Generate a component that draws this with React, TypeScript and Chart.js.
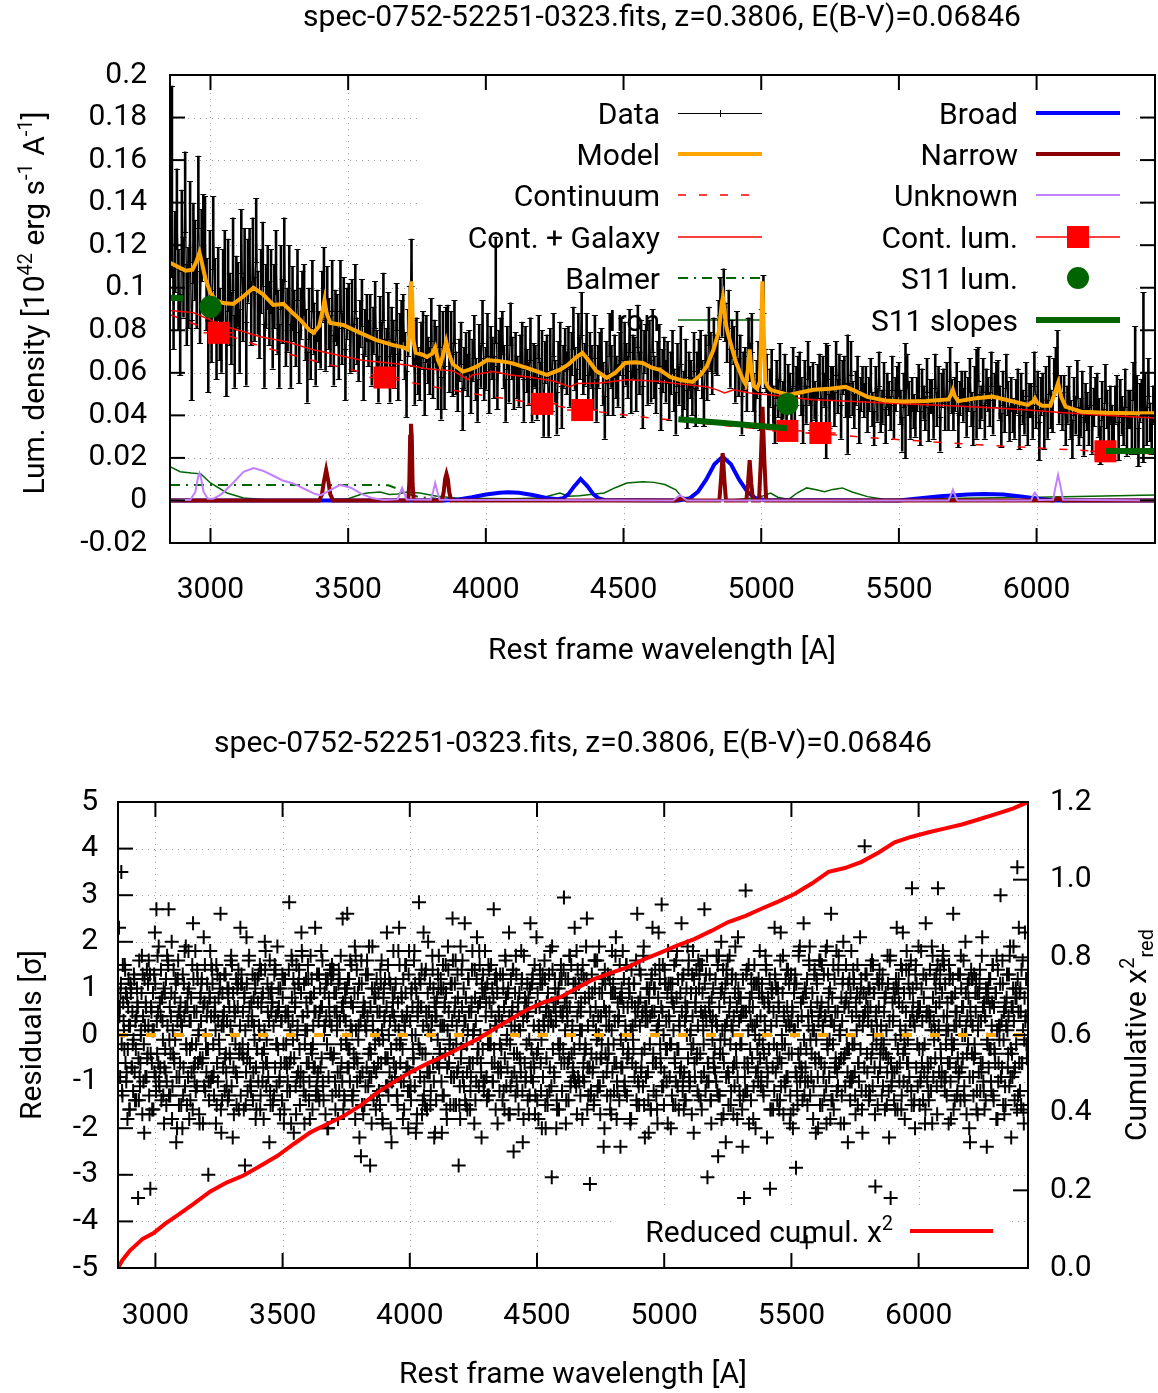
import { useEffect, useRef } from "react";
import { Chart, registerables } from "chart.js";

Chart.register(...registerables);

const FONT_FAMILY = "Roboto, 'DejaVu Sans', sans-serif";
const TEXT_SIZE = 30;
const SCRIPT_SIZE = 20;

const PLOT_TITLE = "spec-0752-52251-0323.fits, z=0.3806, E(B-V)=0.06846";
const X_TITLE = "Rest frame wavelength [A]";

// Wavelength axis shared by both panels
const LAMBDA_MIN = 2853;
const LAMBDA_MAX = 6430;
const lambdaTicks = [3000, 3500, 4000, 4500, 5000, 5500, 6000];

const fluxTicks = [-0.02, 0, 0.02, 0.04, 0.06, 0.08, 0.1, 0.12, 0.14, 0.16, 0.18, 0.2];
const fluxTickLabels = ["-0.02", "0", "0.02", "0.04", "0.06", "0.08", "0.1", "0.12", "0.14", "0.16", "0.18", "0.2"];
const residualTicks = [-5, -4, -3, -2, -1, 0, 1, 2, 3, 4, 5];
const chi2Ticks = [0, 0.2, 0.4, 0.6, 0.8, 1.0, 1.2];
const chi2TickLabels = ["0.0", "0.2", "0.4", "0.6", "0.8", "1.0", "1.2"];

// Spectrum pixel grid (rest frame, Angstrom)
const PIXEL_START = 2860;
const PIXEL_STEP = 6;

// Observed luminosity density per pixel [1e42 erg/s/A]
const flux = [
  0.150, 0.090, 0.117, 0.137, 0.099, 0.078, 0.127, 0.105, 0.145, 0.092,
  0.100, 0.131, 0.066, 0.121, 0.113, 0.098, 0.145, 0.091, 0.120, 0.127,
  0.126, 0.097, 0.068, 0.110, 0.082, 0.126, 0.097, 0.074, 0.102, 0.083,
  0.077, 0.101, 0.110, 0.066, 0.106, 0.090, 0.081, 0.116, 0.070, 0.098,
  0.097, 0.075, 0.122, 0.090, 0.113, 0.069, 0.108, 0.113, 0.088, 0.118,
  0.090, 0.127, 0.093, 0.082, 0.103, 0.116, 0.068, 0.096, 0.105, 0.088,
  0.103, 0.077, 0.096, 0.112, 0.084, 0.068, 0.105, 0.089, 0.118, 0.078,
  0.085, 0.105, 0.068, 0.095, 0.087, 0.075, 0.106, 0.067, 0.088, 0.096,
  0.099, 0.078, 0.058, 0.088, 0.069, 0.101, 0.081, 0.066, 0.087, 0.077,
  0.074, 0.096, 0.107, 0.073, 0.098, 0.083, 0.075, 0.101, 0.066, 0.087,
  0.085, 0.069, 0.101, 0.076, 0.093, 0.059, 0.088, 0.091, 0.071, 0.093,
  0.072, 0.100, 0.075, 0.067, 0.083, 0.093, 0.058, 0.079, 0.086, 0.074,
  0.086, 0.065, 0.080, 0.092, 0.069, 0.057, 0.085, 0.073, 0.096, 0.065,
  0.070, 0.087, 0.057, 0.080, 0.074, 0.064, 0.091, 0.058, 0.077, 0.083,
  0.086, 0.068, 0.050, 0.079, 0.090, 0.112, 0.074, 0.056, 0.075, 0.061,
  0.058, 0.073, 0.078, 0.051, 0.076, 0.066, 0.061, 0.085, 0.058, 0.075,
  0.072, 0.053, 0.082, 0.048, 0.079, 0.053, 0.081, 0.082, 0.061, 0.079,
  0.059, 0.084, 0.060, 0.052, 0.066, 0.074, 0.043, 0.062, 0.069, 0.059,
  0.070, 0.051, 0.066, 0.077, 0.057, 0.047, 0.073, 0.063, 0.084, 0.057,
  0.062, 0.078, 0.051, 0.072, 0.067, 0.058, 0.099, 0.053, 0.070, 0.076,
  0.079, 0.063, 0.047, 0.072, 0.056, 0.083, 0.067, 0.053, 0.069, 0.058,
  0.054, 0.068, 0.074, 0.047, 0.072, 0.061, 0.055, 0.076, 0.047, 0.064,
  0.063, 0.048, 0.077, 0.055, 0.070, 0.040, 0.065, 0.068, 0.040, 0.071,
  0.052, 0.078, 0.056, 0.041, 0.065, 0.074, 0.044, 0.063, 0.071, 0.060,
  0.072, 0.054, 0.069, 0.081, 0.062, 0.052, 0.078, 0.067, 0.088, 0.060,
  0.064, 0.078, 0.049, 0.069, 0.063, 0.053, 0.077, 0.047, 0.063, 0.069,
  0.071, 0.055, 0.039, 0.065, 0.050, 0.078, 0.063, 0.050, 0.068, 0.058,
  0.054, 0.069, 0.076, 0.049, 0.074, 0.064, 0.058, 0.080, 0.051, 0.068,
  0.067, 0.052, 0.082, 0.060, 0.075, 0.044, 0.070, 0.073, 0.055, 0.075,
  0.056, 0.080, 0.058, 0.051, 0.065, 0.073, 0.043, 0.061, 0.067, 0.056,
  0.065, 0.048, 0.060, 0.070, 0.052, 0.041, 0.064, 0.054, 0.073, 0.048,
  0.052, 0.067, 0.043, 0.061, 0.057, 0.049, 0.070, 0.044, 0.061, 0.067,
  0.071, 0.057, 0.044, 0.069, 0.056, 0.082, 0.070, 0.059, 0.077, 0.069,
  0.068, 0.085, 0.096, 0.086, 0.100, 0.084, 0.074, 0.090, 0.062, 0.076,
  0.073, 0.055, 0.080, 0.058, 0.069, 0.040, 0.061, 0.063, 0.051, 0.077,
  0.065, 0.079, 0.051, 0.043, 0.057, 0.066, 0.042, 0.081, 0.097, 0.062,
  0.060, 0.043, 0.053, 0.062, 0.045, 0.036, 0.057, 0.048, 0.065, 0.043,
  0.047, 0.060, 0.038, 0.055, 0.051, 0.044, 0.063, 0.040, 0.054, 0.059,
  0.061, 0.049, 0.036, 0.057, 0.045, 0.066, 0.054, 0.042, 0.056, 0.047,
  0.044, 0.056, 0.061, 0.040, 0.060, 0.052, 0.047, 0.065, 0.042, 0.055,
  0.055, 0.043, 0.067, 0.049, 0.061, 0.037, 0.058, 0.060, 0.047, 0.050,
  0.047, 0.067, 0.048, 0.042, 0.053, 0.060, 0.035, 0.050, 0.055, 0.047,
  0.055, 0.040, 0.050, 0.059, 0.043, 0.034, 0.055, 0.045, 0.062, 0.040,
  0.044, 0.057, 0.035, 0.052, 0.048, 0.041, 0.060, 0.037, 0.050, 0.055,
  0.057, 0.044, 0.031, 0.052, 0.047, 0.061, 0.048, 0.037, 0.050, 0.042,
  0.038, 0.050, 0.056, 0.034, 0.054, 0.046, 0.041, 0.059, 0.036, 0.049,
  0.049, 0.037, 0.061, 0.043, 0.055, 0.031, 0.052, 0.054, 0.041, 0.057,
  0.041, 0.064, 0.049, 0.041, 0.050, 0.057, 0.033, 0.048, 0.053, 0.045,
  0.053, 0.038, 0.050, 0.059, 0.043, 0.034, 0.055, 0.050, 0.064, 0.042,
  0.046, 0.059, 0.037, 0.054, 0.050, 0.043, 0.062, 0.039, 0.052, 0.057,
  0.058, 0.046, 0.033, 0.053, 0.040, 0.061, 0.048, 0.036, 0.050, 0.040,
  0.037, 0.049, 0.054, 0.032, 0.052, 0.044, 0.039, 0.057, 0.034, 0.047,
  0.047, 0.037, 0.062, 0.042, 0.052, 0.028, 0.049, 0.051, 0.033, 0.054,
  0.038, 0.059, 0.043, 0.041, 0.058, 0.063, 0.066, 0.045, 0.050, 0.042,
  0.050, 0.035, 0.045, 0.054, 0.038, 0.029, 0.049, 0.040, 0.057, 0.035,
  0.039, 0.052, 0.030, 0.046, 0.042, 0.035, 0.054, 0.031, 0.044, 0.049,
  0.051, 0.039, 0.026, 0.047, 0.034, 0.055, 0.043, 0.031, 0.045, 0.036,
  0.033, 0.045, 0.050, 0.028, 0.048, 0.040, 0.035, 0.053, 0.030, 0.043,
  0.043, 0.031, 0.056, 0.052, 0.050, 0.025, 0.046, 0.048, 0.058, 0.051,
  0.035, 0.058, 0.037, 0.031, 0.045,
];

// Pixel uncertainty: typical level per wavelength band, plus a few noisy pixels
const noiseBandStart = [2860, 2950, 3100, 3300, 3500, 3800, 4700, 5200, 6000];
const noiseBandSigma = [0.019, 0.017, 0.015, 0.012, 0.011, 0.010, 0.009, 0.008, 0.009];
const noisyPixelLambda = [2860, 4036, 5236, 5314, 5524, 5782, 6076, 6358, 6388];
const noisyPixelSigma = [0.045, 0.025, 0.027, 0.028, 0.027, 0.021, 0.014, 0.030, 0.040];

// Best-fit model and its components
const modelLambda = [
  2853, 2880, 2910, 2935, 2948, 2960, 2970, 2982, 3000, 3020, 3047, 3083, 3120, 3156, 3190, 3228, 3265,
  3300, 3326, 3360, 3374, 3395, 3405, 3414, 3422, 3435, 3482, 3544, 3600, 3664, 3700, 3716, 3722, 3726,
  3729, 3732, 3736, 3745, 3770, 3786, 3805, 3816, 3826, 3834, 3846, 3856, 3866, 3880, 3917, 3940, 3968,
  4004, 4050, 4088, 4149, 4221, 4270, 4300, 4330, 4351, 4372, 4400, 4439, 4470, 4505, 4540, 4570, 4600,
  4632, 4671, 4710, 4750, 4780, 4802, 4827, 4845, 4852, 4857, 4861, 4866, 4873, 4880, 4907, 4933, 4944,
  4952, 4958, 4964, 4971, 4985, 4995, 5000, 5004, 5009, 5015, 5023, 5034, 5100, 5150, 5190, 5250, 5307,
  5350, 5385, 5450, 5515, 5600, 5680, 5690, 5696, 5703, 5715, 5780, 5839, 5900, 5968, 5988, 5994, 6002,
  6020, 6050, 6065, 6078, 6090, 6105, 6162, 6250, 6357, 6430,
];
const modelFlux = [
  0.1117, 0.110, 0.108, 0.1085, 0.112, 0.1165, 0.111, 0.104, 0.0975, 0.094, 0.0928, 0.0924, 0.096, 0.100, 0.097, 0.0919, 0.0924,
  0.088, 0.0849, 0.080, 0.0788, 0.082, 0.088, 0.0943, 0.088, 0.0834, 0.0825, 0.0788, 0.0755, 0.073, 0.072, 0.071, 0.078, 0.098,
  0.103, 0.098, 0.076, 0.0695, 0.0685, 0.0675, 0.069, 0.072, 0.066, 0.0637, 0.069, 0.0747, 0.069, 0.064, 0.0606, 0.0615, 0.063,
  0.066, 0.0655, 0.0648, 0.0623, 0.059, 0.0615, 0.064, 0.0675, 0.0693, 0.066, 0.061, 0.0576, 0.060, 0.0646, 0.065, 0.0646, 0.0625,
  0.0614, 0.058, 0.0565, 0.0557, 0.059, 0.063, 0.071, 0.079, 0.0866, 0.093, 0.0955, 0.090, 0.082, 0.078, 0.0655, 0.057, 0.0545,
  0.062, 0.071, 0.062, 0.054, 0.0525, 0.056, 0.080, 0.103, 0.080, 0.056, 0.0537, 0.052, 0.0496, 0.051, 0.052, 0.0525, 0.0534,
  0.051, 0.0487, 0.047, 0.0465, 0.0467, 0.0475, 0.050, 0.052, 0.049, 0.0467, 0.048, 0.0488, 0.047, 0.0449, 0.0465, 0.048, 0.046,
  0.0445, 0.0445, 0.050, 0.0552, 0.0485, 0.0441, 0.0417, 0.0412, 0.041, 0.041,
];

const continuumLambda = [2853, 3000, 3200, 3400, 3600, 3800, 4000, 4200, 4400, 4600, 4800, 5000, 5200, 5400, 5600, 5800, 6000, 6200, 6430];
const continuumFlux = [0.0873, 0.0801, 0.0718, 0.0648, 0.0588, 0.0536, 0.0492, 0.0453, 0.0418, 0.0388, 0.0361, 0.0336, 0.0315, 0.0295, 0.0277, 0.0261, 0.0247, 0.0233, 0.0219];

const contGalaxyLambda = [
  2853, 2938, 3050, 3181, 3280, 3374, 3440, 3544, 3620, 3714, 3780, 3823, 3880, 3920, 3935, 3950, 4026,
  4090, 4149, 4250, 4305, 4330, 4414, 4512, 4560, 4632, 4700, 4802, 4840, 4867, 4900, 4960, 5034, 5190,
  5300, 5451, 5600, 5708, 5850, 5968, 6100, 6227, 6430,
];
const contGalaxyFlux = [
  0.0893, 0.0883, 0.082, 0.077, 0.0745, 0.0708, 0.069, 0.066, 0.065, 0.0637, 0.062, 0.0614, 0.061, 0.058, 0.0567, 0.059, 0.0606,
  0.059, 0.0582, 0.056, 0.0534, 0.055, 0.0552, 0.0567, 0.0565, 0.0559, 0.0548, 0.0534, 0.052, 0.0505, 0.052, 0.0505, 0.0496, 0.0473,
  0.0468, 0.0458, 0.045, 0.0444, 0.0435, 0.0425, 0.0412, 0.0402, 0.0388,
];

const balmerLambda = [2853, 3300, 3600, 3646, 3680, 3720, 3760, 3820, 3900, 4100, 4500, 6430];
const balmerFlux = [0.0073, 0.0073, 0.0073, 0.0071, 0.0055, 0.003, 0.0015, 0.0008, 0.0004, 0.0002, 0.0001, 0];

const ironLambda = [
  2853, 2890, 2930, 2965, 3000, 3060, 3120, 3200, 3400, 3500, 3550, 3569, 3616, 3650, 3680, 3714, 3760,
  3823, 3900, 4100, 4200, 4269, 4300, 4340, 4380, 4430, 4470, 4512, 4570, 4610, 4650, 4690, 4711, 4760,
  4900, 4970, 5000, 5034, 5060, 5100, 5130, 5165, 5200, 5230, 5260, 5295, 5330, 5386, 5450, 5600, 5800,
  6000, 6200, 6430,
];
const ironFlux = [
  0.0159, 0.0135, 0.0129, 0.0125, 0.0082, 0.0035, 0.0012, 0.0003, 0.0002, 0.0008, 0.003, 0.0035, 0.004, 0.0028, 0.003, 0.004, 0.0035,
  0.002, 0.001, 0.0008, 0.0012, 0.0035, 0.002, 0.0022, 0.0028, 0.0035, 0.006, 0.0082, 0.0088, 0.0085, 0.0075, 0.005, 0.0018, 0.0003,
  0.0003, 0.0012, 0.0018, 0.0035, 0.0015, 0.0005, 0.0035, 0.0059, 0.005, 0.0041, 0.0052, 0.0059, 0.004, 0.0018, 0.0005, 0.0008, 0.0012,
  0.0015, 0.002, 0.0026,
];

const broadLambda = [
  2853, 3850, 3900, 3950, 4000, 4050, 4080, 4120, 4170, 4220, 4260, 4280, 4300, 4320, 4344, 4370, 4390,
  4410, 4430, 4700, 4740, 4770, 4800, 4830, 4860, 4890, 4920, 4950, 4980, 5010, 5500, 5560, 5650, 5750,
  5810, 5880, 5950, 6020, 6060, 6430,
];
const broadFlux = [
  0, 0, 0.0005, 0.0015, 0.0028, 0.0036, 0.0038, 0.0036, 0.0026, 0.0012, 0.0006, 0.001, 0.003, 0.0065, 0.0101, 0.0065, 0.003,
  0.001, 0.0002, 0, 0.001, 0.004, 0.0098, 0.017, 0.0206, 0.017, 0.0098, 0.004, 0.001, 0.0002, 0, 0.0008, 0.002, 0.0028,
  0.003, 0.0028, 0.0018, 0.0006, 0, 0,
];

const narrowLambda = [
  2853, 3395, 3405, 3412, 3420, 3428, 3435, 3445, 3718, 3722, 3725, 3728, 3731, 3734, 3738, 3840, 3847,
  3852, 3857, 3862, 3867, 3874, 4690, 4700, 4710, 4720, 4730, 4848, 4854, 4860, 4866, 4872, 4946, 4952,
  4958, 4964, 4970, 4992, 4999, 5005, 5011, 5018, 6060, 6070, 6078, 6086, 6096, 6430,
];
const narrowFlux = [
  0, 0, 0.003, 0.009, 0.0143, 0.009, 0.003, 0, 0, 0.008, 0.030, 0.036, 0.030, 0.008, 0, 0, 0.004,
  0.010, 0.0125, 0.010, 0.004, 0, 0, 0.0006, 0.001, 0.0005, 0, 0, 0.010, 0.0223, 0.010, 0, 0, 0.008,
  0.019, 0.008, 0, 0, 0.02, 0.044, 0.02, 0, 0, 0.0005, 0.001, 0.0005, 0, 0,
];

const unknownLambda = [
  2853, 2927, 2945, 2955, 2960, 2965, 2975, 2990, 3010, 3040, 3080, 3120, 3156, 3190, 3230, 3260, 3300,
  3340, 3380, 3400, 3430, 3471, 3510, 3550, 3590, 3630, 3680, 3690, 3696, 3702, 3712, 3800, 3808, 3816,
  3824, 3832, 4680, 4695, 4705, 4715, 4730, 5680, 5690, 5696, 5702, 5712, 5980, 5988, 5994, 6000, 6008,
  6060, 6068, 6078, 6088, 6096, 6430,
];
const unknownFlux = [
  0, 0.0003, 0.004, 0.011, 0.0129, 0.011, 0.004, 0.0008, 0.0008, 0.003, 0.008, 0.0135, 0.0152, 0.014, 0.0115, 0.0095, 0.008,
  0.0055, 0.003, 0.0025, 0.0045, 0.0073, 0.006, 0.003, 0.001, 0.0002, 0.0005, 0.004, 0.0059, 0.004, 0.0005, 0.0003, 0.004, 0.0082,
  0.004, 0.0003, 0, 0.0015, 0.0025, 0.0015, 0, 0, 0.003, 0.005, 0.003, 0, 0, 0.0025, 0.0037, 0.0025, 0.0002,
  0.0003, 0.006, 0.012, 0.006, 0.0003, 0,
];

const contLumLambda = [3030, 3632, 4205, 4350, 5095, 5215, 6250];
const contLumFlux = [0.0788, 0.0578, 0.0454, 0.0425, 0.0327, 0.0317, 0.0231];
const CONT_LUM_HALF_WINDOW = 55;

const s11LumLambda = [3000, 5095];
const s11LumFlux = [0.091, 0.0454];

const s11SlopeLambda = [[2800, 2901], [4699, 5094], [6252, 6430]];
const s11SlopeFlux = [[0.0955, 0.0950], [0.0382, 0.0339], [0.0232, 0.0232]];

// Normalised residuals on the native pixel grid
const RESID_START = 2857;
const RESID_STEP = 1.5;
const residuals = [
  2.3, 0.4, 0.6, -0.9, 0.9, 1.1, 3.5, -0.2, -1.2, -1.3, 1.5, 0.7, 0.3, 0.1, -0.3, 1.5, 1.4, -0.6, 0.9, -1.0, -0.8, 0.8, -1.8, -0.3, 0.6, 1.2, 0.2, -1.6, -1.6, 0.2, 1.1, 0.9, 1.0, -0.7, -0.7, 0.5, -0.2, -1.2, -0.1, 1.3,
  1.2, -0.8, -1.4, 0.3, -0.3, -1.4, 0.4, 1.0, 0.7, 0.6, -3.5, -0.5, -1.4, 1.6, -0.9, -1.1, -0.6, 0.0, 0.1, 0.9, 1.7, -1.7, 1.3, 0.4, -1.0, -0.2, -2.1, 1.2, 0.2, -0.9, 0.7, 0.6, -0.9, 1.4, -0.5, -0.4, 1.1, 0.2, 1.6, -1.3,
  -1.7, 1.3, -3.3, -0.4, 0.6, 0.5, -0.6, -1.6, 0.1, 0.9, -1.6, 0.1, 1.3, -0.8, 2.2, 1.1, -0.9, -1.2, 2.7, 0.3, -0.4, 1.7, 0.5, -0.6, 1.9, -1.0, -1.1, 0.7, -0.7, 0.4, 1.4, -1.4, 0.8, 0.8, 0.3, -0.1, -1.3, 1.0, -1.9, -0.7,
  0.9, -0.3, -0.8, 1.2, -1.5, -1.0, 1.7, 0.2, 1.6, 1.5, 2.7, -1.3, -0.1, 0.6, -1.3, -0.4, 0.4, 0.9, 2.0, -1.8, -1.1, 0.1, -0.4, 1.4, -0.5, -0.6, 0.8, -0.1, 1.2, 1.1, -2.3, -0.9, -2.0, 0.3, 1.2, 1.6, 0.5, -1.5, -0.9, 0.5,
  -0.6, 0.7, 0.3, -1.5, 0.2, 0.2, -2.0, 1.3, -1.3, -0.7, 1.1, 0.4, 1.8, -1.1, 0.6, 1.9, -0.2, -0.3, -1.5, 0.6, 0.9, -0.9, 1.8, 1.0, -1.8, 0.3, -0.3, -1.4, 0.3, 0.8, -0.8, -0.2, 1.5, -1.6, 2.4, 1.2, -0.7, 0.5, -1.0, -0.6,
  1.8, -1.2, -0.2, 0.5, -1.1, 1.4, 1.2, -0.6, 0.0, 0.1, -1.7, -1.9, -0.5, 0.8, 0.9, 0.3, 1.1, 1.2, -0.6, -0.5, -1.9, 0.6, 2.1, -1.1, 0.7, 1.5, -1.2, 0.0, -0.3, -0.8, 0.4, 1.1, 0.6, -0.3, -3.0, -1.0, -1.4, 0.9, 0.8, 1.8,
  -1.0, 0.4, 1.5, -0.9, 1.4, 1.1, -0.9, -0.2, -0.8, -1.3, 0.4, 0.7, 0.5, 0.1, -1.9, 1.5, -1.5, -0.6, 1.3, -1.0, 0.3, 0.8, -0.1, -0.3, 1.0, 1.2, 2.6, -1.6, -2.1, 0.2, -1.4, 0.9, 0.4, -0.7, 0.2, 0.5, 1.3, -1.2, -0.5, 1.3,
  -0.4, -0.8, -1.1, 0.3, 1.0, -1.4, 0.8, 1.0, -1.3, 0.6, -0.4, -0.5, 0.2, 1.6, 1.7, -1.1, 1.5, 0.0, -2.2, 0.9, -0.7, -1.7, 0.6, 0.4, 0.5, -0.2, -0.8, 1.2, -1.5, -0.9, 1.0, 0.6, 1.1, 1.4, -1.6, -0.4, -0.3, 0.2, 2.3, -1.3,
  1.1, 1.3, 1.1, -0.4, -0.2, 0.5, -0.5, -1.6, 0.8, 0.9, -2.8, 0.1, -1.5, -0.8, 2.1, 1.1, -0.5, -1.2, -0.3, 0.3, 1.6, 1.7, 0.6, -0.6, -1.1, -1.0, -1.2, 0.7, 0.3, 0.4, 1.3, -1.4, -0.8, 0.8, 0.2, -0.1, 1.2, 1.0, -1.8, -0.7,
  -1.6, -0.3, -0.3, 1.2, 0.7, -1.0, 1.3, 0.2, 0.0, 1.5, -1.6, -1.3, 1.4, 0.6, 0.8, -0.4, -1.0, 0.9, -0.7, -1.8, -0.3, 0.1, 2.0, 1.4, 1.8, -0.6, -1.1, -0.1, -0.6, 1.1, 0.5, -0.9, 0.9, 0.3, -2.3, 1.6, -1.2, -1.5, 0.9, 0.5,
  1.0, 0.7, 0.7, -1.5, -1.4, 0.2, -1.3, 1.3, 1.5, -0.7, 1.4, 0.4, -0.2, -1.1, -0.2, 1.9, 0.5, -0.3, 1.0, 0.6, -1.0, -0.9, -1.7, 1.0, -0.6, 0.3, 0.3, -1.4, 1.3, 0.8, 1.2, -0.2, -1.9, -1.6, -0.6, 1.2, 0.4, 0.5, -0.2, -0.6,
  -0.7, -1.2, -1.0, 0.5, 0.3, 1.4, 2.85, -0.6, -1.2, 0.1, -0.5, -1.9, 1.7, 0.8, 1.6, 0.3, -0.1, 1.2, -2.1, -0.5, 1.0, 0.6, 0.7, -1.1, -1.7, 1.5, -0.9, 0.0, 0.2, -0.8, 1.1, 1.1, 1.4, -0.3, -1.5, -1.0, -0.8, 0.9, 2.2, 1.8,
  1.7, 0.4, 0.4, -0.9, -1.2, 1.1, -1.9, -0.2, 0.1, -1.3, 1.2, 0.7, -0.6, 0.1, 0.5, 1.5, 1.2, -0.6, -1.4, -1.0, -1.8, 0.8, 1.7, -0.3, 0.8, 1.2, -0.4, -1.6, -0.2, 0.2, -0.7, 0.9, 0.5, -0.7, 2.3, 0.5, -1.3, -1.2, -1.1, 1.3,
  -0.9, -0.8, -1.3, 0.3, 1.3, -1.4, 0.5, 1.0, -0.7, 0.6, 1.8, -0.5, 0.6, 1.6, -1.0, -1.1, -1.4, 0.0, 0.2, 0.9, 0.2, -1.7, 1.2, 0.4, 1.1, -0.2, -2.0, 1.2, -2.0, -0.9, 0.8, 0.6, 0.3, 1.4, -0.4, -0.4, 1.2, 0.2, 1.5, -1.3,
  -0.5, 1.3, 1.4, -0.4, 0.9, 0.5, -1.0, -1.6, -1.2, 0.9, 0.5, 0.1, 0.3, -0.8, -1.8, 1.1, 1.4, -1.2, 1.2, 0.3, -0.8, 1.7, -0.2, -0.6, 0.6, -1.0, 2.5, 0.7, -1.6, 0.4, -1.3, -1.4, 1.0, 0.8, 0.3, -0.1, -0.2, 1.0, 2.6, -0.7,
  1.2, -0.3, -0.7, 1.2, -0.3, -1.0, 1.6, 0.2, 0.7, 1.5, 0.1, -1.3, -1.4, 0.6, -1.2, -0.4, -0.6, 0.9, 1.9, -1.8, 1.7, 0.1, -0.5, 1.4, -1.0, -0.6, 0.9, -0.1, 0.2, 1.1, -2.2, -0.9, -0.9, 0.3, -2.6, 1.6, 1.1, -1.5, -0.8, 0.5,
  -1.7, 0.7, 0.5, -1.5, 0.6, 0.2, -1.1, 1.3, 0.1, -0.7, 1.6, 0.4, 1.3, -1.1, -0.4, 1.9, -0.9, -0.3, -2.8, 0.6, -0.4, -0.9, -1.9, 1.0, 1.9, 0.3, 0.1, -1.4, -0.7, 0.8, 1.0, -0.2, 0.8, -1.6, -0.8, 1.2, -1.3, 0.5, 0.0, -0.6,
  0.9, -1.2, -0.1, 0.5, -1.5, 1.4, 1.1, -0.6, 1.6, 0.1, -1.8, -1.9, -0.1, 0.8, 1.0, 0.3, 0.4, 1.2, -0.5, -0.5, -1.1, 0.6, 2.2, -1.1, -0.5, 1.5, -1.3, 0.0, 1.2, -0.8, 0.3, 1.1, -2.0, -0.3, -2.3, -1.0, 0.5, 0.9, 0.7, 1.8,
  -0.6, 0.4, 0.9, -0.9, 0.2, 1.1, -0.7, -0.2, -1.3, -1.3, -1.5, 0.7, 1.8, 0.1, 2.3, 1.5, -0.2, -0.6, -0.1, -1.0, 0.9, 0.8, 0.4, -0.3, -1.8, 1.2, -1.0, -1.6, 0.3, 0.2, 1.5, 0.9, 1.5, -0.7, 0.4, 0.5, -0.7, -1.2, -2.0, 1.3,
  1.8, -0.8, -1.2, 0.3, -1.1, -1.4, 0.9, 1.0, 0.0, 0.6, -0.3, -0.5, -0.5, 1.6, 1.8, -1.1, 1.1, 0.0, -2.1, 0.9, -1.9, -1.7, 0.5, 0.4, 0.7, -0.2, 2.85, 1.2, -0.3, -0.9, 1.1, 0.6, 0.6, 1.4, -1.7, -0.4, -1.4, 0.2, 2.2, -1.3,
  -1.0, 1.3, -1.5, -0.4, 1.4, 0.5, 0.3, -1.6, -0.8, 0.9, 2.0, 0.1, 0.5, -0.8, -0.8, 1.1, -1.5, -1.2, 0.0, 0.3, 0.3, 1.7, 1.4, -0.6, 1.0, -1.0, -2.2, 0.7, -2.1, 0.4, 0.6, -1.4, 0.4, 0.8, -0.6, -0.1, 1.3, 1.0, 1.7, -0.7,
  -0.4, -0.3, 0.2, 1.2, 1.0, -1.0, -2.1, 0.2, -1.3, 1.5, 1.0, -1.3, 0.2, 0.6, 0.7, -0.4, 1.5, 0.9, -1.6, -1.8, -0.7, 0.1, 1.9, 1.4, 0.5, -0.6, -0.2, -0.1, -1.5, 1.1, -0.9, -0.9, 1.1, 0.3, 2.5, 1.6, -0.3, -1.5, -0.9, 0.5,
  1.1, 0.7, 1.6, -1.5, -0.2, 0.2, -0.8, 1.3, 0.8, -0.7, -2.8, 0.4, -1.5, -1.1, -1.8, 1.9, -0.5, -0.3, 1.4, 0.6, 1.6, -0.9, 0.0, 1.0, -1.1, 0.3, 2.4, -1.4, 0.3, 0.8, -1.5, -0.2, -0.8, -1.6, 0.1, 1.2, 1.2, 0.5, -0.6, -0.6,
  -1.6, -1.2, -0.9, 0.5, 0.7, 1.4, 1.8, -0.6, 0.0, 0.1, 0.1, -1.9, 1.4, 0.8, -1.4, 0.3, -1.0, 1.2, 2.1, -0.5, -0.3, 0.6, -0.3, -1.1, 1.8, 1.5, 0.7, 0.0, -0.6, -0.8, -2.2, 1.1, 0.9, -0.3, 1.3, -1.0, -1.2, 0.9, -1.0, 1.8,
  1.0, 0.4, 0.7, -0.9, -1.4, 1.1, -1.3, -0.2, 1.5, -1.3, 1.4, 0.7, -0.2, 0.1, -0.2, 1.5, 0.5, -0.6, 1.0, -1.0, -1.0, 0.8, 2.7, -0.3, -0.6, 1.2, 0.3, -1.6, 1.3, 0.2, 1.2, 0.9, -1.9, -0.7, -0.8, 0.5, 0.4, -1.2, -0.2, 1.3,
  -0.7, -0.8, -0.3, 0.3, 0.3, -1.4, 1.3, 1.0, -1.2, 0.6, -1.6, -0.5, 1.7, 1.6, 0.8, -1.1, -0.1, 0.0, -0.7, 0.9, 1.0, -1.7, 2.2, 0.4, -1.7, -0.2, -1.1, 1.2, 0.2, -0.9, 0.5, 0.6, 1.4, 1.4, -2.5, -0.4, -0.8, 0.2, 0.9, -1.3,
  1.7, 1.3, -1.0, -0.4, -1.2, 0.5, 0.7, -1.6, 0.1, 0.9, -0.5, 0.1, -0.6, -0.8, 1.8, 1.1, 1.2, -1.2, -2.3, 0.3, -1.8, 1.7, 0.5, -0.6, 0.8, -1.0, -0.9, 0.7, -0.2, 0.4, 1.1, -1.4, 0.5, 0.8, -1.7, -0.1, -1.3, 1.0, 2.4, -0.7,
  -0.9, -0.3, 1.1, 1.2, 1.3, -1.0, -0.5, 0.2, -0.7, 1.5, -1.7, -1.3, 0.6, 0.6, 2.1, -0.4, -1.4, 0.9, -0.3, -1.8, 0.2, 0.1, 0.6, 1.4, 1.1, -0.6, -1.2, -0.1, -2.0, 1.1, 1.3, -0.9, 0.3, 0.3, 0.2, 1.6, 1.2, -1.5, -2.0, 0.5,
  -0.5, 0.7, -1.3, -1.5, 0.9, 0.2, 0.5, 1.3, -1.2, -0.7, 1.8, 0.4, 0.3, -1.1, -3.05, 1.9, 1.4, -0.3, 0.2, 0.6, -0.8, -0.9, 1.2, 1.0, 0.6, 0.3, -2.0, -1.4, -1.6, 0.8, 0.8, -0.2, 1.0, -1.6, -0.4, 1.2, -0.2, 0.5, 1.5, -0.6,
  1.2, -1.2, 0.4, 0.5, -0.3, 1.4, 2.95, -0.6, 0.7, 0.1, 1.2, -1.9, -1.4, 0.8, 0.5, 0.3, -0.6, 1.2, -1.4, -0.5, 1.7, 0.6, 1.7, -1.1, -1.0, 1.5, -0.4, 0.0, 0.2, -0.8, -0.7, 1.1, -0.9, -0.3, 2.3, -1.0, 1.1, 0.9, -1.1, 1.8,
  -1.7, 0.4, 1.4, -0.9, 0.6, 1.1, -1.0, -0.2, 0.1, -1.3, 0.5, 0.7, 1.3, 0.1, -1.8, 1.5, -0.9, -0.6, 1.2, -1.0, -0.4, 0.8, -0.2, -0.3, 1.9, 1.2, 2.5, -1.6, -0.7, 0.2, -1.3, 0.9, 0.8, -0.7, -3.2, 0.5, -1.3, -1.2, -0.4, 1.3,
  0.9, -0.8, -0.7, 0.3, -1.5, -1.4, 1.6, 1.0, 1.6, 0.6, 0.1, -0.5, -0.1, 1.6, -1.2, -1.1, 0.4, 0.0, 1.9, 0.9, -1.1, -1.7, -0.5, 0.4, -0.5, -0.2, 0.9, 1.2, 1.2, -0.9, -2.4, 0.6, -2.0, 1.4, 1.1, -0.4, 0.5, 0.2, -0.8, -1.3,
  -0.6, 1.3, -0.2, -0.4, 0.2, 0.5, 1.2, -1.6, -1.3, 0.9, -1.7, 0.1, 1.8, -0.8, 0.9, 1.1, -0.2, -1.2, -0.6, 0.3, 0.9, 1.7, 2.1, -0.6, -1.8, -1.0, -1.2, 0.7, 0.3, 0.4, 0.4, -1.4, 1.5, 0.8, -2.4, -0.1, -0.7, 1.0, 0.8, -0.7,
  1.8, -0.3, 0.6, 1.2, -1.1, -1.0, -1.2, 0.2, 0.0, 1.5, 1.5, -1.3, -0.5, 0.6, -0.3, -0.4, 1.1, 0.9, 0.9, -1.8, -1.9, 0.1, -1.8, 1.4, 0.7, -0.6, 0.2, -0.1, -0.3, 1.1, 1.1, -0.9, 0.6, 0.3, -0.7, 1.6, -1.4, -1.5, 2.6, 0.5,
  -1.0, 0.7, -1.1, -1.5, 1.4, 0.2, 0.8, 1.3, -0.8, -0.7, -0.4, 0.4, 0.5, -1.1, 1.7, 1.9, -1.5, -0.3, -2.2, 0.6, 0.3, -0.9, 0.6, 1.0, 1.0, 0.3, -0.8, -1.4, -2.1, 0.8, 1.0, -0.2, 0.4, -1.6, -1.6, 1.2, 1.3, 0.5, 2.3, -0.6,
  -0.4, -1.2, 1.0, 0.5, 1.0, 1.4, -0.6, -0.6, -1.3, 0.1, -1.6, -1.9, 0.2, 0.8, 2.2, 0.3, 1.5, 1.2, -0.2, -0.5, -0.7, 0.6, 2.8, -1.1, 0.5, 1.5, -1.1, 0.0, -1.5, -0.8, 1.4, 1.1, 1.1, -0.3, 0.3, -1.0, -0.3, 0.9, -1.9, 1.8,
  1.1, 0.4, 0.3, -0.9, -0.2, 1.1, -2.0, -0.2, 0.8, -1.3, 1.1, 0.7, -1.5, 0.1, 0.6, 1.5, -0.5, -0.6, -1.5, -1.0, 1.6, 0.8, 1.8, -0.3, -1.1, 1.2, -0.3, -1.6, 0.3, 0.2, -0.8, 0.9, -0.8, -0.7, 2.4, 0.5, 1.2, -1.2, -1.0, 1.3,
  -1.6, -0.8, -1.4, 0.3, 0.7, -1.4, 0.4, 1.0, 0.0, 0.6, 1.9, -0.5, 1.4, 1.6, -0.9, -1.1, -1.0, 0.0, 0.1, 0.9, -0.3, -1.7, 1.3, 0.4, 1.8, -0.2, -2.1, 1.2, -0.6, -0.9, 0.7, 0.6, 0.9, 1.4, -0.5, -0.4, -1.2, 0.2, 1.6, -1.3,
  1.0, 1.3, 1.5, -0.4, -1.4, 0.5, -0.9, -1.6, 1.5, 0.9, 0.4, 0.1, -0.2, -0.8, 2.7, 1.1, 0.5, -1.2, 1.3, 0.3, -1.0, 1.7, -3.05, -0.6, -0.6, -1.0, 0.6, 0.7, 1.3, 0.4, -1.4, -1.4, -1.9, 0.8, 0.2, -0.1, 0.4, 1.0, -0.5, -0.7,
  -0.7, -0.3, -0.8, 1.2, 0.3, -1.0, 1.7, 0.2, -1.2, 1.5, -2.6, -1.3, 1.7, 0.6, -1.3, -0.4, -0.1, 0.9, 2.0, -1.8, 1.0, 0.1, -0.4, 1.4, -1.7, -0.6, 0.8, -0.1, 0.2, 1.1, -2.3, -0.9, 1.4, 0.3, 1.2, 1.6, -0.8, -1.5, -0.9, 0.5,
  1.7, 0.7, -0.2, -1.5, -1.2, 0.2, 1.2, 1.3, 0.1, -0.7, -1.7, 0.4, -0.6, -1.1, 0.9, 1.9, 1.2, -0.3, -0.6, 0.6, -1.8, -0.9, 2.1, 1.0, 0.8, 0.3, -1.2, -1.4, -0.2, 0.8, 0.4, -0.2, 0.5, -1.6, -2.4, 1.2, -1.3, 0.5, -3.5, -0.6,
  -0.9, -1.2, 3.1, 0.5, 1.3, 1.4, -1.2, -0.6, -0.7, 0.1, 1.5, -1.9, 0.6, 0.8, -0.3, 0.3, -1.4, 1.2, 0.9, -0.5, 0.2, 0.6, -1.8, -1.1, 1.1, 1.5, 0.2, 0.0, -2.0, -0.8, 1.1, 1.1, 0.3, -0.3, -0.7, -1.0, 1.2, 0.9, -0.1, 1.8,
  -0.5, 0.4, -1.1, -0.9, 0.9, 1.1, 0.8, -0.2, -1.2, -1.3, -0.4, 0.7, 0.3, 0.1, 1.7, 1.5, 1.4, -0.6, -2.2, -1.0, -0.8, 0.8, 0.6, -0.3, 0.6, 1.2, -3.3, -1.6, -1.6, 0.2, 1.0, 0.9, 1.0, -0.7, -1.6, 0.5, -0.2, -1.2, 2.3, 1.3,
  1.2, -0.8, 1.0, 0.3, -0.3, -1.4, -0.6, 1.0, 0.7, 0.6, -1.6, -0.5, -1.4, 1.6, 2.2, -1.1, -0.6, 0.0, -0.2, 0.9, 1.7, -1.7, 0.5, 0.4, -1.0, -0.2, -1.1, 1.2, 0.2, -0.9, 1.4, 0.6, -0.9, 1.4, 0.3, -0.4, 1.1, 0.2, -1.9, -1.3,
  -1.7, 1.3, 0.3, -0.4, 0.6, 0.5, -2.0, -1.6, 0.1, 0.9, 1.1, 0.1, 1.3, -0.8, -2.85, 1.1, -0.9, -1.2, -1.5, 0.3, -0.4, 1.7, 1.8, -0.6, 1.9, -1.0, -0.3, 0.7, -0.7, 0.4, -0.8, -1.4, 0.8, 0.8, 2.4, -0.1, -1.3, 1.0, -1.0, -0.7,
  0.9, -0.3, -4.45, 1.2, -1.5, -1.0, 0.4, 0.2, 1.6, 1.5, 1.9, -1.3, -0.1, 0.6, -0.9, -0.4, 0.4, 0.9, 0.1, -1.8, -1.1, 0.1, 1.3, 1.4, -0.5, -0.6, -2.1, -0.1, 1.2, 1.1, 0.7, -0.9, -2.0, 0.3, -0.5, 1.6, 0.5, -1.5, 1.6, 0.5,
  -0.6, 0.7, 1.5, -1.5, 0.2, 0.2, -0.9, 1.3, -1.3, -0.7, 0.4, 0.4, 1.8, -1.1, -1.9, 1.9, -0.2, -0.3, 1.3, 0.6, 0.9, -0.9, -0.1, 1.0, -1.8, 0.3, 2.6, -1.4, 0.3, 0.8, -1.4, -0.2, 1.5, -1.6, 0.2, 1.2, -0.7, 0.5, -0.5, -0.6,
  1.8, -1.2, -0.8, 0.5, -1.1, 1.4, 1.7, -0.6, 0.0, 0.1, 0.0, -1.9, -0.5, 0.8, -1.3, 0.3, 1.1, 1.2, 2.0, -0.5, -1.9, 0.6, -0.4, -1.1, 0.7, 1.5, 0.8, 0.0, -0.3, -0.8, -2.3, 1.1, 0.6, -0.3, 1.2, -1.0, -1.4, 0.9, -0.9, 1.8,
  -1.0, 0.4, -0.2, -0.9, 1.4, 1.1, 1.2, -0.2, -0.8, -1.3, -1.7, 0.7, 0.5, 0.1, 0.9, 1.5, -1.5, -0.6, -0.6, -1.0, 0.3, 0.8, 2.1, -0.3, 1.0, 1.2, -1.2, -1.6, -2.1, 0.2, 0.4, 0.9, 0.4, -0.7, 4.05, 0.5, 1.3, -1.2, 0.8, 1.3,
  -0.4, -0.8, 0.6, 0.3, 1.0, -1.4, -1.2, 1.0, -1.3, 0.6, 1.5, -0.5, 0.2, 1.6, -0.3, -1.1, 1.5, 0.0, 0.9, 0.9, -0.7, -1.7, -3.25, 0.4, 0.5, -0.2, 0.2, 1.2, -1.5, -0.9, 1.1, 0.6, 1.1, 1.4, -0.7, -0.4, -0.3, 0.2, -0.1, -1.3,
  1.1, 1.3, -1.1, -0.4, -0.2, 0.5, 0.8, -1.6, 0.8, 0.9, -0.4, 0.1, -1.5, -0.8, 1.7, 1.1, -0.5, -1.2, -2.2, 0.3, 1.6, 1.7, -3.5, -0.6, -1.1, -1.0, -0.8, 0.7, 0.3, 0.4, 1.0, -1.4, -0.8, 0.8, -1.6, -0.1, 1.2, 1.0, 2.3, -0.7,
  -1.6, -0.3, 1.0, 1.2, 0.7, -1.0, -0.6, 0.2, 0.0, 1.5, -1.6, -1.3, 1.4, 0.6, 2.2, -0.4, -1.0, 0.9, -0.2, -1.8, -0.3, 0.1, 0.5, 1.4, 1.8, -0.6, -1.1, -0.1, -0.6, 1.1, 1.4, -0.9, 0.9, 0.3, 0.3, 1.6, -1.2, -1.5, 3.15, 0.5,
  1.0, 0.7, 0.3, -1.5, -1.4, 0.2, -2.0, 1.3, 1.5, -0.7, 1.1, 0.4, -0.2, -1.1, 0.6, 1.9, 0.5, -0.3, -1.5, 0.6, -1.0, -0.9, 1.8, 1.0, -0.6, 0.3, -0.3, -1.4, 1.3, 0.8, -0.8, -0.2, -1.9, -1.6, 2.4, 1.2, 0.4, 0.5, -1.0, -0.6,
  -0.7, -1.2, -1.4, 0.5, 0.3, 1.4, 0.4, -0.6, -1.2, 0.1, 1.9, -1.9, 1.7, 0.8, -0.9, 0.3, -0.1, 1.2, 0.1, -0.5, 1.0, 0.6, 1.3, -1.1, -1.7, 1.5, 3.15, 0.0, 0.2, -0.8, 0.7, 1.1, 1.4, -0.3, -0.5, -1.0, -0.8, 0.9, 1.6, 1.8,
  1.7, 0.4, 1.5, -0.9, -1.2, 1.1, -0.9, -0.2, 0.1, -1.3, 0.4, 0.7, -0.6, 0.1, -1.9, 1.5, 1.2, -0.6, 1.3, -1.0, -1.8, 0.8, -0.1, -0.3, 0.8, 1.2, 2.6, -1.6, -0.2, 0.2, -1.4, 0.9, 0.5, -0.7, 0.2, 0.5, -1.3, -1.2, -0.5, 1.3,
  -0.9, -0.8, -0.8, 0.3, 1.3, -1.4, 1.7, 1.0, -0.7, 0.6, 0.0, -0.5, 0.6, 1.6, -1.3, -1.1, -1.4, 0.0, 2.0, 0.9, 0.2, -1.7, -0.4, 0.4, 1.1, -0.2, 0.8, 1.2, -2.0, -0.9, -2.3, 0.6, 0.3, 1.4, 1.2, -0.4, 1.2, 0.2, -0.9, -1.3,
  -0.5, 1.3, -0.2, -0.4, 0.9, 0.5, 1.2, -1.6, -1.2, 0.9, -1.7, 0.1, 0.3, -0.8, 0.9, 1.1, 1.4, -1.2, -0.6, 0.3, -0.8, 1.7, 2.1, -0.6, 0.6, -1.0, -1.2, 0.7, -1.6, 0.4, 0.4, -1.4, 1.0, 0.8, -2.4, -0.1, -0.2, 1.0, 0.8, -0.7,
  1.2, -0.3, 0.6, 1.2, -0.3, -1.0, -1.2, 0.2, 0.7, 1.5, 1.5, -1.3, -1.4, 0.6, -0.3, -0.4, -0.6, 0.9, 0.9, -1.8, 1.7, 0.1, -1.8, 1.4, -1.0, -0.6, 0.2, -0.1, 0.2, 1.1, 3.0, -0.9, -0.9, 0.3, -0.7, 1.6, 1.1, -1.5, -0.1, 0.5,
  -1.7, 0.7, -1.1, -1.5, 0.6, 0.2, 0.8, 1.3, 0.1, -0.7, -0.4, 0.4, 1.3, -1.1, 1.7, 1.9, -0.9, -0.3, -2.2, 0.6, -0.4, -0.9, 0.6, 1.0, 1.9, 0.3, -0.8, -1.4, -0.7, 0.8, 1.0, -0.2, 0.8, -1.6, 3.6, 1.2, -1.3, 0.5, 2.3, -0.6,
  0.9, -1.2, 1.0, 0.5, -1.5, 1.4, -0.6, -0.6, 1.6, 0.1, -1.6, -1.9, -0.1, 0.8, 2.2, 0.3, 0.4, 1.2, -0.2, -0.5,
];

// Reduced cumulative chi-square
const chi2Lambda = [
  2853, 2870, 2900, 2950, 2993, 3040, 3085, 3150, 3216, 3280, 3346, 3410, 3480, 3545, 3611, 3680, 3742,
  3810, 3875, 3940, 4004, 4070, 4135, 4200, 4268, 4330, 4398, 4460, 4530, 4594, 4660, 4724, 4790, 4858,
  4920, 4988, 5050, 5118, 5185, 5252, 5320, 5382, 5450, 5512, 5580, 5646, 5710, 5776, 5843, 5906, 5970,
  6040, 6105, 6170, 6235, 6300, 6370, 6430,
];
const chi2Value = [
  0.0, 0.02, 0.045, 0.075, 0.09, 0.115, 0.135, 0.165, 0.197, 0.22, 0.238, 0.262, 0.289, 0.32, 0.35, 0.372, 0.392,
  0.42, 0.453, 0.48, 0.505, 0.527, 0.546, 0.568, 0.59, 0.615, 0.641, 0.665, 0.685, 0.698, 0.722, 0.744, 0.76, 0.775,
  0.795, 0.813, 0.83, 0.847, 0.868, 0.891, 0.907, 0.925, 0.944, 0.963, 0.99, 1.02, 1.03, 1.046, 1.07, 1.096, 1.11,
  1.122, 1.132, 1.142, 1.155, 1.168, 1.183, 1.2,
];

// ---------------------------------------------------------------------------

const COLORS = {
  data: "#000000",
  model: "#ffa500",
  red: "#ff0000",
  green: "#006400",
  blue: "#0000ff",
  narrow: "#8b0000",
  unknown: "#c080ff",
  grid: "#a0a0a0",
};

const pixelLambda = flux.map((_, i) => PIXEL_START + PIXEL_STEP * i);
const residLambda = residuals.map((_, i) => RESID_START + RESID_STEP * i);

function pixelSigma(lam: number): number {
  const k = noisyPixelLambda.indexOf(lam);
  if (k >= 0) return noisyPixelSigma[k];
  let s = noiseBandSigma[0];
  noiseBandStart.forEach((start, i) => {
    if (lam >= start) s = noiseBandSigma[i];
  });
  return s;
}

const xy = (xs: number[], ys: number[]) => xs.map((x, i) => ({ x, y: ys[i] }));

function segmentPoints(lams: number[][], vals: number[][]) {
  const out: { x: number; y: number | null }[] = [];
  lams.forEach((seg, i) => {
    out.push({ x: seg[0], y: vals[i][0] }, { x: seg[1], y: vals[i][1] }, { x: seg[1], y: null });
  });
  return out;
}

type Piece = { t: string; size?: number; dy?: number };

function drawRich(
  ctx: CanvasRenderingContext2D,
  pieces: Piece[],
  x: number,
  baseline: number,
  align: "left" | "center" | "right",
  angle = 0
) {
  ctx.save();
  ctx.translate(x, baseline);
  ctx.rotate(angle);
  ctx.textAlign = "left";
  ctx.textBaseline = "alphabetic";
  ctx.fillStyle = "#000";
  const widths = pieces.map((p) => {
    ctx.font = `${p.size ?? TEXT_SIZE}px ${FONT_FAMILY}`;
    return ctx.measureText(p.t).width;
  });
  const total = widths.reduce((a, b) => a + b, 0);
  let cx = align === "left" ? 0 : align === "center" ? -total / 2 : -total;
  pieces.forEach((p, i) => {
    ctx.font = `${p.size ?? TEXT_SIZE}px ${FONT_FAMILY}`;
    ctx.fillText(p.t, cx, p.dy ?? 0);
    cx += widths[i];
  });
  ctx.restore();
}

function line(ctx: CanvasRenderingContext2D, x1: number, y1: number, x2: number, y2: number) {
  ctx.beginPath();
  ctx.moveTo(x1, y1);
  ctx.lineTo(x2, y2);
  ctx.stroke();
}

function drawDottedGrid(chart: any, yScaleId: string, yValues: number[]) {
  const { ctx, chartArea: a } = chart;
  const xs = chart.scales.x;
  const ys = chart.scales[yScaleId];
  ctx.save();
  ctx.strokeStyle = COLORS.grid;
  ctx.lineWidth = 1;
  ctx.setLineDash([1, 5]);
  lambdaTicks.forEach((v) => {
    const px = Math.round(xs.getPixelForValue(v)) + 0.5;
    line(ctx, px, a.top, px, a.bottom);
  });
  yValues.forEach((v) => {
    const py = Math.round(ys.getPixelForValue(v)) + 0.5;
    if (py <= a.top + 1 || py >= a.bottom - 1) return;
    line(ctx, a.left, py, a.right, py);
  });
  ctx.restore();
}

const TICK_LEN = 15;

function drawFrame(chart: any, leftId: string, leftTicks: number[], rightId: string, rightTicks: number[]) {
  const { ctx, chartArea: a } = chart;
  const xs = chart.scales.x;
  ctx.save();
  ctx.strokeStyle = "#000";
  ctx.lineWidth = 2;
  ctx.setLineDash([]);
  lambdaTicks.forEach((v) => {
    const px = xs.getPixelForValue(v);
    line(ctx, px, a.bottom, px, a.bottom - TICK_LEN);
    line(ctx, px, a.top, px, a.top + TICK_LEN);
  });
  const ls = chart.scales[leftId];
  leftTicks.forEach((v) => {
    const py = ls.getPixelForValue(v);
    line(ctx, a.left, py, a.left + TICK_LEN, py);
  });
  const rs = chart.scales[rightId];
  rightTicks.forEach((v) => {
    const py = rs.getPixelForValue(v);
    line(ctx, a.right, py, a.right - TICK_LEN, py);
  });
  ctx.strokeRect(a.left, a.top, a.right - a.left, a.bottom - a.top);
  ctx.restore();
}

// ---------------------------------------------------------------------------
// Upper panel: spectrum and fit components

const TOP_H = 690;
const BOTTOM_H = 703;

const topLegendRows = [113, 154, 195, 237, 278, 320];
const topLegendLeft = ["Data", "Model", "Continuum", "Cont. + Galaxy", "Balmer", "Iron"];
const topLegendRight = ["Broad", "Narrow", "Unknown", "Cont. lum.", "S11 lum.", "S11 slopes"];

function drawTopLegend(ctx: CanvasRenderingContext2D) {
  const L0 = 678, L1 = 762, R0 = 1036, R1 = 1120, RC = 1078;
  topLegendLeft.forEach((t, i) => drawRich(ctx, [{ t }], 660, topLegendRows[i] + 11, "right"));
  topLegendRight.forEach((t, i) => drawRich(ctx, [{ t }], 1018, topLegendRows[i] + 11, "right"));
  ctx.save();
  const r = topLegendRows;
  const stroke = (color: string, w: number, dash: number[], x0: number, x1: number, y: number) => {
    ctx.strokeStyle = color;
    ctx.lineWidth = w;
    ctx.setLineDash(dash);
    line(ctx, x0, y, x1, y);
  };
  stroke(COLORS.data, 1, [], L0, L1, r[0] + 0.5);
  ctx.strokeStyle = COLORS.data;
  ctx.lineWidth = 1;
  line(ctx, 720.5, r[0] - 3, 720.5, r[0] + 4);
  stroke(COLORS.model, 4, [], L0, L1, r[1]);
  stroke(COLORS.red, 1.5, [8, 13], L0, 752, r[2]);
  stroke(COLORS.red, 1.5, [], L0, L1, r[3]);
  stroke(COLORS.green, 2, [10, 6, 2, 6], L0, L1, r[4]);
  stroke(COLORS.green, 1.5, [], L0, L1, r[5]);
  stroke(COLORS.blue, 4, [], R0, R1, r[0]);
  stroke(COLORS.narrow, 4, [], R0, R1, r[1]);
  stroke(COLORS.unknown, 2, [], R0, R1, r[2]);
  stroke(COLORS.red, 1.5, [], R0, R1, r[3]);
  ctx.fillStyle = COLORS.red;
  ctx.fillRect(RC - 11, r[3] - 11, 22, 22);
  ctx.fillStyle = COLORS.green;
  ctx.beginPath();
  ctx.arc(RC, r[4], 11, 0, Math.PI * 2);
  ctx.fill();
  stroke(COLORS.green, 6, [], R0, R1, r[5]);
  ctx.restore();
}

const topDecor = {
  id: "topDecor",
  beforeDatasetsDraw(chart: any) {
    const { ctx } = chart;
    drawDottedGrid(chart, "y", fluxTicks);
    // opaque key box
    ctx.save();
    ctx.fillStyle = "#fff";
    ctx.fillRect(422, 76, 1135 - 422, 343 - 76);
    ctx.restore();
    drawTopLegend(ctx);
  },
  afterDatasetDraw(chart: any, args: any) {
    const { ctx, chartArea: a } = chart;
    const xs = chart.scales.x;
    const ys = chart.scales.y;
    if (args.index === 0) {
      // error bars of the observed spectrum
      ctx.save();
      ctx.beginPath();
      ctx.rect(a.left, a.top, a.right - a.left, a.bottom - a.top);
      ctx.clip();
      ctx.strokeStyle = COLORS.data;
      ctx.lineWidth = 2.6;
      ctx.beginPath();
      pixelLambda.forEach((lam, i) => {
        const s = pixelSigma(lam);
        const px = xs.getPixelForValue(lam);
        ctx.moveTo(px, ys.getPixelForValue(flux[i] - s));
        ctx.lineTo(px, ys.getPixelForValue(flux[i] + s));
      });
      ctx.stroke();
      ctx.lineWidth = 1;
      ctx.beginPath();
      pixelLambda.forEach((lam, i) => {
        const s = pixelSigma(lam);
        const px = xs.getPixelForValue(lam);
        const lo = Math.round(ys.getPixelForValue(flux[i] - s)) + 0.5;
        const hi = Math.round(ys.getPixelForValue(flux[i] + s)) + 0.5;
        ctx.moveTo(px - 3, lo);
        ctx.lineTo(px + 3, lo);
        ctx.moveTo(px - 3, hi);
        ctx.lineTo(px + 3, hi);
      });
      ctx.stroke();
      ctx.restore();
    }
    if (args.index === 9) {
      // wavelength windows of the continuum luminosities
      ctx.save();
      ctx.strokeStyle = COLORS.red;
      ctx.lineWidth = 1.5;
      contLumLambda.forEach((lam, i) => {
        const py = ys.getPixelForValue(contLumFlux[i]);
        line(ctx, xs.getPixelForValue(lam - CONT_LUM_HALF_WINDOW), py, xs.getPixelForValue(lam + CONT_LUM_HALF_WINDOW), py);
      });
      ctx.restore();
    }
  },
  afterDatasetsDraw(chart: any) {
    drawFrame(chart, "y", fluxTicks, "y", fluxTicks);
  },
  afterDraw(chart: any) {
    const { ctx } = chart;
    drawRich(ctx, [{ t: PLOT_TITLE }], 662, 26, "center");
    drawRich(ctx, [{ t: X_TITLE }], 662, 659, "center");
    const sup = { size: SCRIPT_SIZE, dy: -12 };
    drawRich(
      ctx,
      [
        { t: "Lum. density [10" },
        { t: "42", ...sup },
        { t: " erg s" },
        { t: "-1", ...sup },
        { t: " A" },
        { t: "-1", ...sup },
        { t: "]" },
      ],
      44,
      303,
      "center",
      -Math.PI / 2
    );
  },
};

// ---------------------------------------------------------------------------
// Lower panel: residuals and cumulative chi-square

const bottomDecor = {
  id: "bottomDecor",
  beforeDatasetsDraw(chart: any) {
    const { ctx } = chart;
    drawDottedGrid(chart, "y", residualTicks);
    ctx.save();
    ctx.fillStyle = "#fff";
    ctx.fillRect(612, 520, 1008 - 612, 574 - 520);
    ctx.strokeStyle = COLORS.red;
    ctx.lineWidth = 4;
    line(ctx, 910, 541, 993, 541);
    ctx.restore();
    drawRich(ctx, [{ t: "Reduced cumul. x" }, { t: "2", size: SCRIPT_SIZE, dy: -12 }], 893, 552, "right");
  },
  afterDatasetsDraw(chart: any) {
    drawFrame(chart, "y", residualTicks, "y2", chi2Ticks);
  },
  afterDraw(chart: any) {
    const { ctx } = chart;
    drawRich(ctx, [{ t: PLOT_TITLE }], 573, 62, "center");
    drawRich(ctx, [{ t: X_TITLE }], 573, 693, "center");
    drawRich(ctx, [{ t: "Residuals [σ]" }], 41, 345, "center", -Math.PI / 2);
    drawRich(
      ctx,
      [
        { t: "Cumulative x" },
        { t: "2", size: SCRIPT_SIZE, dy: -12 },
        { t: "red", size: SCRIPT_SIZE, dy: 7 },
      ],
      1146,
      345,
      "center",
      -Math.PI / 2
    );
  },
};

const tickFont = { family: FONT_FAMILY, size: TEXT_SIZE };

function fixedTicks(values: number[]) {
  return (scale: any) => {
    scale.ticks = values.map((value) => ({ value }));
  };
}

// Force a scale's thickness and drop the extra room Chart.js reserves for edge labels
function fixedSize(prop: "width" | "height", size: number) {
  return (s: any) => {
    s[prop] = size;
    s.paddingLeft = 0;
    s.paddingRight = 0;
    s.paddingTop = 0;
    s.paddingBottom = 0;
  };
}

function xScale(height: number, padding: number) {
  return {
    type: "linear",
    min: LAMBDA_MIN,
    max: LAMBDA_MAX,
    afterBuildTicks: fixedTicks(lambdaTicks),
    afterFit: fixedSize("height", height),
    grid: { display: false },
    border: { display: false },
    ticks: { font: tickFont, color: "#000", padding, maxRotation: 0, autoSkip: false, callback: (v: number) => String(v) },
  };
}

export default function App() {
  const topRef = useRef<HTMLCanvasElement>(null);
  const bottomRef = useRef<HTMLCanvasElement>(null);

  useEffect(() => {
    const common = {
      responsive: false,
      animation: false,
      events: [],
      plugins: { legend: { display: false }, tooltip: { enabled: false } },
      elements: { point: { radius: 0 }, line: { tension: 0 } },
    };

    const top = new Chart(topRef.current as HTMLCanvasElement, {
      type: "line",
      data: {
        datasets: [
          { label: "Data", data: xy(pixelLambda, flux), borderColor: COLORS.data, borderWidth: 1.4, order: 20 },
          { label: "Cont. + Galaxy", data: xy(contGalaxyLambda, contGalaxyFlux), borderColor: COLORS.red, borderWidth: 1.5, order: 15 },
          { label: "Continuum", data: xy(continuumLambda, continuumFlux), borderColor: COLORS.red, borderWidth: 1.5, borderDash: [8, 13], order: 14 },
          { label: "Model", data: xy(modelLambda, modelFlux), borderColor: COLORS.model, borderWidth: 4, order: 12 },
          { label: "Balmer", data: xy(balmerLambda, balmerFlux), borderColor: COLORS.green, borderWidth: 2, borderDash: [10, 6, 2, 6], order: 10 },
          { label: "Iron", data: xy(ironLambda, ironFlux), borderColor: COLORS.green, borderWidth: 1.5, order: 9 },
          { label: "Broad", data: xy(broadLambda, broadFlux), borderColor: COLORS.blue, borderWidth: 4, order: 8 },
          { label: "Narrow", data: xy(narrowLambda, narrowFlux), borderColor: COLORS.narrow, borderWidth: 4, order: 7 },
          { label: "Unknown", data: xy(unknownLambda, unknownFlux), borderColor: COLORS.unknown, borderWidth: 2, order: 6 },
          {
            label: "Cont. lum.",
            data: xy(contLumLambda, contLumFlux),
            showLine: false,
            pointStyle: "rect",
            pointRadius: 15.6,
            pointBackgroundColor: COLORS.red,
            pointBorderWidth: 0,
            order: 5,
          },
          {
            label: "S11 lum.",
            data: xy(s11LumLambda, s11LumFlux),
            showLine: false,
            pointStyle: "circle",
            pointRadius: 11,
            pointBackgroundColor: COLORS.green,
            pointBorderWidth: 0,
            order: 4,
          },
          { label: "S11 slopes", data: segmentPoints(s11SlopeLambda, s11SlopeFlux), borderColor: COLORS.green, borderWidth: 6, spanGaps: false, order: 3 },
        ],
      },
      options: {
        ...common,
        layout: { autoPadding: false, padding: { top: 75, right: 3, left: 0, bottom: 0 } },
        scales: {
          x: xScale(TOP_H - 543, 21),
          y: {
            type: "linear",
            min: -0.02,
            max: 0.2,
            afterBuildTicks: fixedTicks(fluxTicks),
            afterFit: fixedSize("width", 170),
            grid: { display: false },
            border: { display: false },
            ticks: {
              font: tickFont,
              color: "#000",
              padding: 15,
              autoSkip: false,
              callback: (v: number) => fluxTickLabels[fluxTicks.indexOf(v)],
            },
          },
        },
      },
      plugins: [topDecor],
    } as any);

    const bottom = new Chart(bottomRef.current as HTMLCanvasElement, {
      type: "line",
      data: {
        datasets: [
          {
            label: "Residuals",
            data: xy(residLambda, residuals),
            showLine: false,
            pointStyle: "cross",
            pointRadius: 7,
            pointBorderWidth: 2,
            pointBorderColor: "#000",
            yAxisID: "y",
            order: 10,
          },
          {
            label: "Zero",
            data: [
              { x: LAMBDA_MIN, y: 0 },
              { x: LAMBDA_MAX, y: 0 },
            ],
            borderColor: COLORS.model,
            borderWidth: 4,
            borderDash: [10, 18],
            yAxisID: "y",
            order: 5,
          },
          { label: "Reduced cumul. x2", data: xy(chi2Lambda, chi2Value), borderColor: COLORS.red, borderWidth: 4, yAxisID: "y2", order: 1 },
        ],
      },
      options: {
        ...common,
        layout: { autoPadding: false, padding: { top: 112, right: 0, left: 0, bottom: 0 } },
        scales: {
          x: xScale(BOTTOM_H - 578, 22),
          y: {
            type: "linear",
            position: "left",
            min: -5,
            max: 5,
            afterBuildTicks: fixedTicks(residualTicks),
            afterFit: fixedSize("width", 118),
            grid: { display: false },
            border: { display: false },
            ticks: { font: tickFont, color: "#000", padding: 12, autoSkip: false, callback: (v: number) => String(v) },
          },
          y2: {
            type: "linear",
            position: "right",
            min: 0,
            max: 1.2,
            afterBuildTicks: fixedTicks(chi2Ticks),
            afterFit: fixedSize("width", 130),
            grid: { display: false },
            border: { display: false },
            ticks: {
              font: tickFont,
              color: "#000",
              padding: 14,
              autoSkip: false,
              callback: (v: number) => chi2TickLabels[chi2Ticks.indexOf(v)],
            },
          },
        },
      },
      plugins: [bottomDecor],
    } as any);

    return () => {
      top.destroy();
      bottom.destroy();
    };
  }, []);

  return (
    <div style={{ position: "absolute", left: 0, top: 0, width: 1158, height: 1393, background: "#fff" }}>
      <canvas ref={topRef} width={1158} height={TOP_H} style={{ display: "block" }} />
      <canvas ref={bottomRef} width={1158} height={BOTTOM_H} style={{ display: "block" }} />
    </div>
  );
}
